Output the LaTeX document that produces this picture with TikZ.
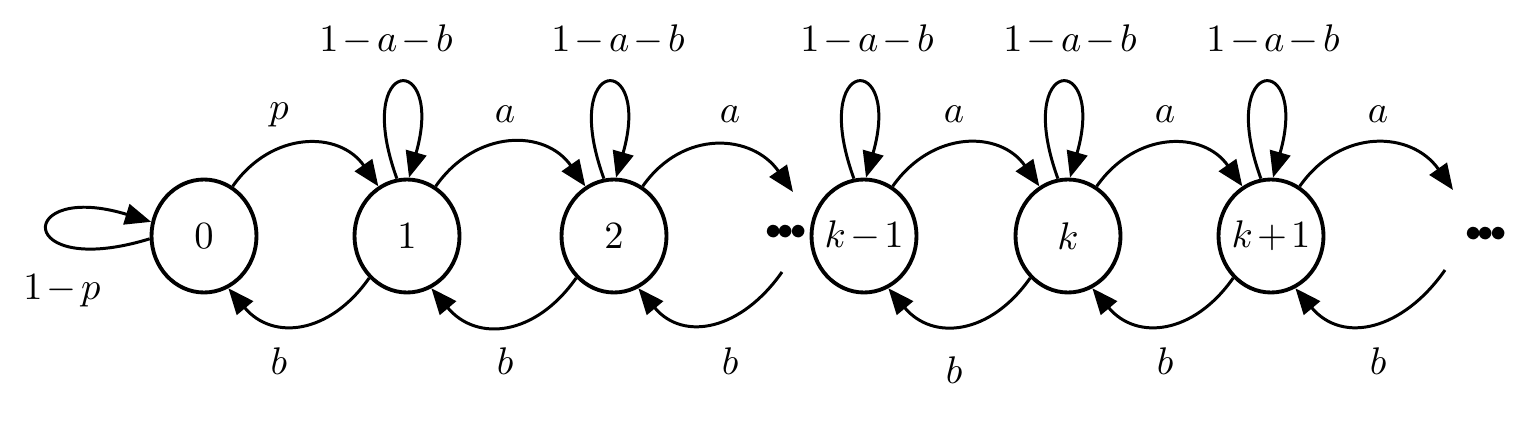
\documentclass[tikz,border=0pt]{standalone}
\usetikzlibrary{shapes.geometric, arrows.meta}

\newcommand{\tminus}{\mskip2mu{-}\mskip2mu}
\newcommand{\stay}{$1\tminus a\tminus b$}

\begin{document}
\begin{tikzpicture}[
    state/.style={draw, ellipse, line width=1.1pt, minimum width=1.05cm, minimum height=1.13cm, inner xsep=-1mm, inner ysep=0pt, font=\fontsize{11}{13}\selectfont},
    arr/.style={-{Triangle[length=2.6mm, width=2.1mm]}, line width=0.85pt},
    fwd/.style={out=55, in=125, looseness=1.2},
    bwd/.style={out=-125, in=-50, looseness=1.25},
    selfloop/.style={out=110, in=74, min distance=1.32cm},
    lbl/.style={anchor=base, font=\fontsize{11}{13}\selectfont},
    dots/.style={font=\fontsize{9}{9}\selectfont},
]
\useasboundingbox (0,0) rectangle (15.3,4.3);

% States
\node[state] (s0) at (2.04, 1.94) {$0$};
\node[state] (s1) at (4.07, 1.94) {$1$};
\node[state] (s2) at (6.14, 1.94) {$2$};
\node[state] (sk1) at (8.64, 1.94) {$k\tminus 1$};
\node[state] (sk) at (10.68, 1.94) {$k$};
\node[state] (sk2) at (12.71, 1.94) {$k\mskip2mu{+}\mskip2mu 1$};

% Open ends and dots
\coordinate (o2a) at (7.93, 2.38);
\coordinate (o2b) at (7.82, 1.58);
\coordinate (oka) at (14.53, 2.40);
\coordinate (okb) at (14.45, 1.60);
\node[dots] (d1) at (7.86, 1.98) {$\bullet\!\!\bullet\!\!\bullet$};
\node[dots] (d2) at (14.86, 1.96) {$\bullet\!\!\bullet\!\!\bullet$};

% Self loops
\draw[arr] (s0.183) to[out=197, in=163, min distance=1.42cm] (s0.165);
\node[lbl] (l0) at (0.62, 1.30) {$1\tminus p$};
\draw[arr] (s1.100) to[selfloop] (s1.88);
\draw[arr] (s2.100) to[selfloop] (s2.88);
\draw[arr] (sk1.100) to[selfloop] (sk1.88);
\draw[arr] (sk.100) to[selfloop] (sk.88);
\draw[arr] (sk2.100) to[selfloop] (sk2.88);
\node[lbl] (l1) at (3.86, 3.78) {\stay};
\node[lbl] (l2) at (6.18, 3.78) {\stay};
\node[lbl] (l3) at (8.67, 3.78) {\stay};
\node[lbl] (l4) at (10.70, 3.78) {\stay};
\node[lbl] (l5) at (12.73, 3.78) {\stay};

% Forward transitions (top)
\draw[arr] (s0.60) to[fwd] (s1.120);
\node[lbl] (f0) at (2.79, 3.10) {$p$};
\draw[arr] (s1.60) to[fwd] (s2.120);
\node[lbl] (f1) at (5.05, 3.07) {$a$};
\draw[arr] (s2.60) to[fwd] (o2a);
\node[lbl] (f2) at (7.30, 3.07) {$a$};
\draw[arr] (sk1.60) to[fwd] (sk.120);
\node[lbl] (f3) at (9.54, 3.07) {$a$};
\draw[arr] (sk.60) to[fwd] (sk2.120);
\node[lbl] (f4) at (11.65, 3.07) {$a$};
\draw[arr] (sk2.60) to[fwd] (oka);
\node[lbl] (f5) at (13.78, 3.07) {$a$};

% Backward transitions (bottom)
\draw[arr] (s1.228) to[bwd] (s0.295);
\node[lbl] (b0) at (2.79, 0.55) {$b$};
\draw[arr] (s2.228) to[bwd] (s1.295);
\node[lbl] (b1) at (5.05, 0.55) {$b$};
\draw[arr] (o2b) to[bwd] (s2.295);
\node[lbl] (b2) at (7.30, 0.55) {$b$};
\draw[arr] (sk.228) to[bwd] (sk1.295);
\node[lbl] (b3) at (9.54, 0.47) {$b$};
\draw[arr] (sk2.228) to[bwd] (sk.295);
\node[lbl] (b4) at (11.65, 0.55) {$b$};
\draw[arr] (okb) to[bwd] (sk2.295);
\node[lbl] (b5) at (13.78, 0.55) {$b$};

\end{tikzpicture}
\end{document}
